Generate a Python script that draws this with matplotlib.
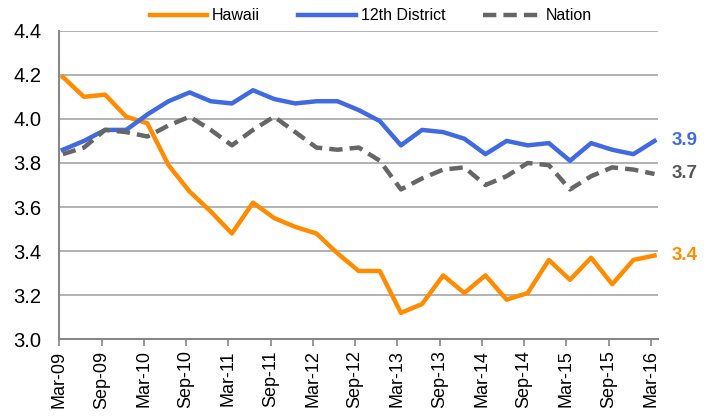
import matplotlib.pyplot as plt

# Quarterly values, Mar-09 .. Mar-16
quarters = list(range(29))
hawaii = [4.19, 4.10, 4.11, 4.01, 3.98, 3.79, 3.67, 3.58, 3.48, 3.62,
          3.55, 3.51, 3.48, 3.39, 3.31, 3.31, 3.12, 3.16, 3.29, 3.21,
          3.29, 3.18, 3.21, 3.36, 3.27, 3.37, 3.25, 3.36, 3.38]
district = [3.86, 3.90, 3.95, 3.95, 4.02, 4.08, 4.12, 4.08, 4.07, 4.13,
            4.09, 4.07, 4.08, 4.08, 4.04, 3.99, 3.88, 3.95, 3.94, 3.91,
            3.84, 3.90, 3.88, 3.89, 3.81, 3.89, 3.86, 3.84, 3.90]
nation = [3.84, 3.87, 3.95, 3.94, 3.92, 3.97, 4.01, 3.95, 3.88, 3.95,
          4.01, 3.94, 3.87, 3.86, 3.87, 3.81, 3.68, 3.73, 3.77, 3.78,
          3.70, 3.74, 3.80, 3.79, 3.68, 3.74, 3.78, 3.77, 3.75]
end_labels = ['3.4', '3.9', '3.7']
tick_labels = ['Mar-09', 'Sep-09', 'Mar-10', 'Sep-10', 'Mar-11', 'Sep-11',
               'Mar-12', 'Sep-12', 'Mar-13', 'Sep-13', 'Mar-14', 'Sep-14',
               'Mar-15', 'Sep-15', 'Mar-16']

plt.rcParams['font.family'] = ['Liberation Sans', 'DejaVu Sans']

# x in months; points sit half a month after the tick
months = [3 * q + 0.5 for q in quarters]

fig = plt.figure(figsize=(7.13, 4.19), dpi=100)
ax = fig.add_axes([0.0832, 0.1902, 0.8397, 0.7365])

orange = '#FF8C00'
blue = '#4169E1'
gray = '#666666'

ax.plot(months, hawaii, color=orange, lw=3.2, label='Hawaii')
ax.plot(months, district, color=blue, lw=3.2, label='12th District')
ax.plot(months, nation, color=gray, lw=3.2, dashes=(3, 1.6), label='Nation')

# end-of-line labels
for vals, txt, col in [(hawaii, end_labels[0], orange),
                       (district, end_labels[1], blue),
                       (nation, end_labels[2], '#595959')]:
    ax.annotate(txt, (months[-1], vals[-1]), xytext=(12, 0), textcoords='offset points',
                color=col, fontsize=13.5, fontweight='bold', va='center', ha='left',
                annotation_clip=False)

ax.set_xlim(0, 85)
ax.set_ylim(3.0, 4.4)
ax.set_yticks([3.0, 3.2, 3.4, 3.6, 3.8, 4.0, 4.2, 4.4])
ax.set_xticks(range(0, 85, 6))
ax.set_xticklabels(tick_labels, rotation=90)
ax.tick_params(axis='x', labelsize=13, color='#888888', length=5, width=1.2, pad=3)
ax.tick_params(axis='y', labelsize=14.5, length=0, pad=13)

ax.grid(axis='y', color='#A6A6A6', lw=1.2)
ax.set_axisbelow(True)
for s in ['top', 'right']:
    ax.spines[s].set_visible(False)
for s in ['left', 'bottom']:
    ax.spines[s].set_color('#888888')
    ax.spines[s].set_linewidth(1.5)

fig.legend(loc='center', bbox_to_anchor=(0.52, 0.962), ncol=3, frameon=False,
           fontsize=11.5, handlelength=3.6, columnspacing=2.4, handletextpad=0.3)

plt.savefig('out.png', dpi=100)
